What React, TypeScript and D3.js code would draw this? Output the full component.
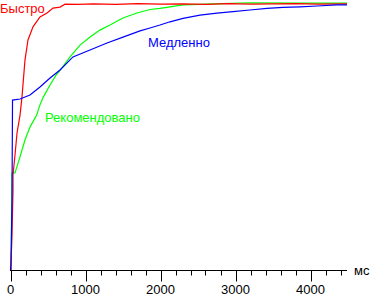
import React from "react";
import * as d3 from "d3";

const xTicks = [0, 1000, 2000, 3000, 4000];
const unitLabel = "мс";

const fastT = [7, 7, 20, 27, 33, 33, 60, 87, 127, 153, 193, 233, 300, 393, 487, 567, 660, 727, 900, 1100, 1400, 1700, 2000, 2300, 2600, 2900, 3200, 3500, 3800, 4100, 4487];
const fastV = [0, 3.2, 12.9, 22.2, 29.3, 35.6, 43.1, 51.3, 58, 64.7, 78.5, 86, 90.9, 94.6, 96.1, 97.9, 98.3, 99.4, 99.3, 99.5, 99.3, 99.6, 99.4, 99.5, 99.3, 99.6, 99.4, 99.5, 99.6, 99.4, 99.5];

const slowT = [0, 7, 20, 27, 127, 260, 393, 527, 660, 833, 1060, 1287, 1500, 1727, 1860, 1993, 2127, 2300, 2527, 2753, 2967, 3193, 3420, 3633, 3860, 4087, 4353, 4487];
const slowV = [0, 3.2, 26.3, 63.6, 64, 65.5, 68.5, 71.8, 74.8, 79.7, 82.3, 84.9, 87.1, 89.4, 90.5, 91.6, 92.8, 94.1, 95.3, 96, 96.6, 97.2, 97.8, 98.2, 98.4, 98.7, 99.1, 99.1];

const recT = [7, 20, 60, 127, 193, 260, 349, 393, 437, 527, 607, 687, 793, 927, 1060, 1193, 1327, 1500, 1687, 1860, 1993, 2127, 2300, 2620, 3193, 3860, 4487];
const recV = [0, 36.4, 36.4, 42.4, 48.7, 53.5, 58, 61.8, 64.7, 69.2, 72.9, 75.6, 79.7, 84.1, 87.1, 89.7, 91.6, 94.2, 96.1, 97.4, 97.8, 98.4, 99.1, 99.4, 99.9, 99.8, 99.8];

const series = [
  { name: "Рекомендовано", color: "#00ff00", t: recT, v: recV },
  { name: "Быстро", color: "#ff0000", t: fastT, v: fastV },
  { name: "Медленно", color: "#0000ff", t: slowT, v: slowV },
];

export default function App() {
  const W = 370, H = 296;
  const x = d3.scaleLinear().domain([0, 4500]).range([10.5, 348]);
  const y = d3.scaleLinear().domain([0, 100]).range([270.5, 2.5]);
  const line = d3
    .line<[number, number]>()
    .x((d) => x(d[0]))
    .y((d) => y(d[1]));
  const minor = d3.range(0, 4401, 200);
  const font = "'Liberation Sans', Arial, sans-serif";
  const axisY = 270.5;
  return (
    <svg
      width={W}
      height={H}
      style={{ position: "absolute", left: 0, top: 0, background: "#fff" }}
      fontFamily={font}
    >
      <rect width={W} height={H} fill="#fff" />
      {series.map((s) => (
        <path
          key={s.name}
          d={line(s.t.map((t, i) => [t, s.v[i]]) as [number, number][]) || ""}
          fill="none"
          stroke={s.color}
          strokeWidth={1.2}
        />
      ))}
      <line x1={10} x2={347} y1={axisY} y2={axisY} stroke="#000" strokeWidth={1} />
      {minor.map((t) => {
        const major = t % 1000 === 0;
        const px = Math.round(x(t)) + 0.5;
        return (
          <line
            key={t}
            x1={px}
            x2={px}
            y1={axisY}
            y2={axisY + (major ? 11 : 5)}
            stroke="#000"
            strokeWidth={1}
          />
        );
      })}
      {xTicks.map((t) => (
        <text key={t} x={x(t)} y={294} fontSize={13} textAnchor="middle" fill="#000">
          {t}
        </text>
      ))}
      <text x={354} y={275} fontSize={13} fill="#000">
        {unitLabel}
      </text>
      <text x={0} y={13} fontSize={13} fill="#ff0000">Быстро</text>
      <text x={148} y={47} fontSize={13} fill="#0000ff">Медленно</text>
      <text x={45} y={122} fontSize={13} fill="#00ff00">Рекомендовано</text>
    </svg>
  );
}
